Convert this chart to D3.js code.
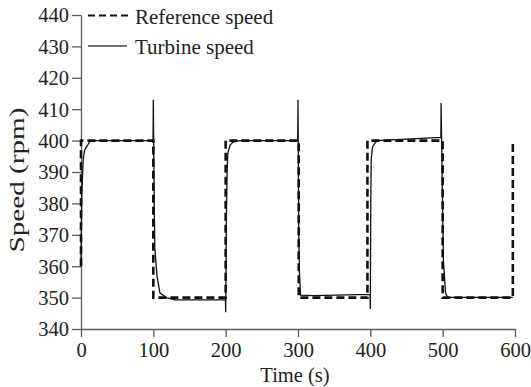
<!DOCTYPE html>
<html>
<head>
<meta charset="utf-8">
<script src="https://cdn.jsdelivr.net/npm/d3@7"></script>
<style>
  body { margin: 0; background: #fff; }
</style>
</head>
<body>
<div id="chart"></div>
<script>
// reference speed (step signal)
const refTime  = [0, 0, 100, 100, 200, 200, 301, 301, 396, 396, 500, 500, 597, 597];
const refSpeed = [360, 400, 400, 350, 350, 400, 400, 350, 350, 400, 400, 350, 350, 400];

// turbine speed (measured)
const turbTime  = [0, 1, 3, 5, 13, 99.6, 100, 101, 102, 105, 109, 118, 130, 199.7, 200, 201, 202, 203, 206, 210, 220,
                   299.6, 300, 301, 302, 303.5, 320, 399.7, 400, 400.6, 401.2, 403, 409, 497.5, 497.8, 499.5, 501, 504, 507, 597];
const turbSpeed = [360, 382, 394, 397, 400, 400, 413, 385, 366, 357, 351.5, 350, 349.3, 349.3, 345.3, 375, 390, 396, 398.5, 399.5, 400,
                   400, 413, 372, 358, 350.8, 350.6, 351, 346.4, 380, 394, 398, 400, 401, 412, 385, 362, 351.4, 350.1, 350.1];

const xTicks = [0, 100, 200, 300, 400, 500, 600];
const yTicks = [340, 350, 360, 370, 380, 390, 400, 410, 420, 430, 440];

const width = 531, height = 387;
const margin = { top: 15, right: 16, bottom: 58, left: 81 };
const font = '"Liberation Serif", "Times New Roman", Times, serif';

const svg = d3.select('#chart').append('svg')
    .attr('width', width)
    .attr('height', height)
    .attr('font-family', font);

const x = d3.scaleLinear().domain([0, 600]).range([margin.left, width - margin.right]);
const y = d3.scaleLinear().domain([340, 440]).range([height - margin.bottom, margin.top]);

// axes
const xAxis = svg.append('g')
    .attr('transform', `translate(0,${height - margin.bottom})`)
    .call(d3.axisBottom(x).tickValues(xTicks).tickSize(8).tickSizeOuter(0));
xAxis.attr('font-family', font).attr('font-size', 20.5);
xAxis.selectAll('text').attr('y', 28).attr('dy', 0).attr('fill', '#222');

const yAxis = svg.append('g')
    .attr('transform', `translate(${margin.left},0)`)
    .call(d3.axisLeft(y).tickValues(yTicks).tickSize(9).tickSizeOuter(0));
yAxis.attr('font-family', font).attr('font-size', 20.5);
yAxis.selectAll('text').attr('x', -12).attr('dy', '0.34em').attr('fill', '#222');

svg.selectAll('.domain, .tick line').attr('stroke', '#5a5a5a').attr('stroke-width', 1.3);

// lines
const refLine = d3.line().x((d, i) => x(refTime[i])).y(d => y(d));
const turbLine = d3.line().x((d, i) => x(turbTime[i])).y(d => y(d));

svg.append('path')
    .attr('d', refLine(refSpeed))
    .attr('fill', 'none')
    .attr('stroke', '#111')
    .attr('stroke-width', 2.6)
    .attr('stroke-dasharray', '8,4');

svg.append('path')
    .attr('d', turbLine(turbSpeed))
    .attr('fill', 'none')
    .attr('stroke', '#111')
    .attr('stroke-width', 1.3);

// axis titles
svg.append('text')
    .attr('x', 295)
    .attr('y', 382)
    .attr('text-anchor', 'middle')
    .attr('font-size', 20.5)
    .attr('fill', '#222')
    .text('Time (s)');

svg.append('text')
    .attr('transform', 'translate(24,180) rotate(-90)')
    .attr('text-anchor', 'middle')
    .attr('textLength', 145)
    .attr('lengthAdjust', 'spacingAndGlyphs')
    .attr('font-size', 20.5)
    .attr('fill', '#222')
    .text('Speed (rpm)');

// legend
const legend = svg.append('g');
legend.append('line')
    .attr('x1', 88).attr('x2', 130).attr('y1', 15.5).attr('y2', 15.5)
    .attr('stroke', '#111').attr('stroke-width', 2.2).attr('stroke-dasharray', '7,4');
legend.append('text')
    .attr('x', 135).attr('y', 24)
    .attr('font-size', 21)
    .attr('fill', '#222')
    .text('Reference speed');
legend.append('line')
    .attr('x1', 88).attr('x2', 127).attr('y1', 46).attr('y2', 46)
    .attr('stroke', '#444').attr('stroke-width', 1.3);
legend.append('text')
    .attr('x', 135).attr('y', 53.5)
    .attr('font-size', 21)
    .attr('fill', '#222')
    .text('Turbine speed');
</script>
</body>
</html>
